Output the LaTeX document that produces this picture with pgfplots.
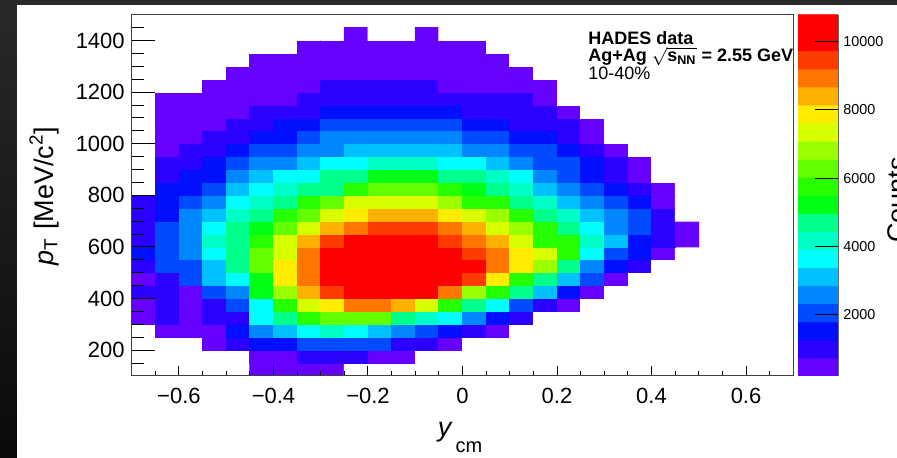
\documentclass[border=0pt]{standalone}
\usepackage{fontspec}
\setmainfont{Liberation Sans}
\usepackage{pgfplots}
\pgfplotsset{compat=1.18}
\usepackage{pgfplotstable}
\pgfplotsset{colormap={rootpal}{rgb255=(255,255,255) rgb255=(102,0,255) rgb255=(43,0,255) rgb255=(0,16,255) rgb255=(0,75,255) rgb255=(0,134,255) rgb255=(0,193,255) rgb255=(0,253,255) rgb255=(0,255,198) rgb255=(0,255,139) rgb255=(0,255,80) rgb255=(0,255,21) rgb255=(38,255,0) rgb255=(97,255,0) rgb255=(156,255,0) rgb255=(215,255,0) rgb255=(255,236,0) rgb255=(255,177,0) rgb255=(255,118,0) rgb255=(255,59,0) rgb255=(255,0,0) rgb255=(255,0,0)}}
\begin{document}
\pgfplotstableread[row sep=\\]{
x y c\\
-0.675 125 0\\ -0.625 125 0\\ -0.575 125 0\\ -0.525 125 0\\ -0.475 125 0\\ -0.425 125 470\\ -0.375 125 470\\ -0.325 125 470\\ -0.275 125 470\\ -0.225 125 0\\ -0.175 125 0\\ -0.125 125 0\\ -0.075 125 0\\ -0.025 125 0\\ 0.025 125 0\\ 0.075 125 0\\ 0.125 125 0\\ 0.175 125 0\\ 0.225 125 0\\ 0.275 125 0\\ 0.325 125 0\\ 0.375 125 0\\ 0.425 125 0\\ 0.475 125 0\\
-0.675 175 0\\ -0.625 175 0\\ -0.575 175 0\\ -0.525 175 0\\ -0.475 175 0\\ -0.425 175 470\\ -0.375 175 470\\ -0.325 175 999\\ -0.275 175 999\\ -0.225 175 999\\ -0.175 175 470\\ -0.125 175 470\\ -0.075 175 0\\ -0.025 175 0\\ 0.025 175 0\\ 0.075 175 0\\ 0.125 175 0\\ 0.175 175 0\\ 0.225 175 0\\ 0.275 175 0\\ 0.325 175 0\\ 0.375 175 0\\ 0.425 175 0\\ 0.475 175 0\\
-0.675 225 0\\ -0.625 225 0\\ -0.575 225 0\\ -0.525 225 470\\ -0.475 225 999\\ -0.425 225 1528\\ -0.375 225 1528\\ -0.325 225 2057\\ -0.275 225 2057\\ -0.225 225 2057\\ -0.175 225 2057\\ -0.125 225 999\\ -0.075 225 999\\ -0.025 225 470\\ 0.025 225 0\\ 0.075 225 0\\ 0.125 225 0\\ 0.175 225 0\\ 0.225 225 0\\ 0.275 225 0\\ 0.325 225 0\\ 0.375 225 0\\ 0.425 225 0\\ 0.475 225 0\\
-0.675 275 0\\ -0.625 275 470\\ -0.575 275 470\\ -0.525 275 470\\ -0.475 275 1528\\ -0.425 275 2587\\ -0.375 275 3116\\ -0.325 275 3645\\ -0.275 275 4174\\ -0.225 275 3645\\ -0.175 275 3116\\ -0.125 275 2587\\ -0.075 275 2057\\ -0.025 275 1528\\ 0.025 275 999\\ 0.075 275 470\\ 0.125 275 0\\ 0.175 275 0\\ 0.225 275 0\\ 0.275 275 0\\ 0.325 275 0\\ 0.375 275 0\\ 0.425 275 0\\ 0.475 275 0\\
-0.675 325 470\\ -0.625 325 999\\ -0.575 325 470\\ -0.525 325 999\\ -0.475 325 999\\ -0.425 325 3645\\ -0.375 325 4703\\ -0.325 325 5762\\ -0.275 325 6291\\ -0.225 325 6291\\ -0.175 325 6291\\ -0.125 325 4703\\ -0.075 325 4174\\ -0.025 325 3645\\ 0.025 325 2587\\ 0.075 325 1528\\ 0.125 325 999\\ 0.175 325 0\\ 0.225 325 0\\ 0.275 325 0\\ 0.325 325 0\\ 0.375 325 0\\ 0.425 325 0\\ 0.475 325 0\\
-0.675 375 470\\ -0.625 375 999\\ -0.575 375 470\\ -0.525 375 999\\ -0.475 375 2057\\ -0.425 375 3645\\ -0.375 375 5762\\ -0.325 375 7349\\ -0.275 375 7879\\ -0.225 375 8937\\ -0.175 375 8937\\ -0.125 375 8408\\ -0.075 375 7349\\ -0.025 375 5762\\ 0.025 375 4703\\ 0.075 375 3645\\ 0.125 375 2057\\ 0.175 375 999\\ 0.225 375 470\\ 0.275 375 0\\ 0.325 375 0\\ 0.375 375 0\\ 0.425 375 0\\ 0.475 375 0\\
-0.675 425 999\\ -0.625 425 999\\ -0.575 425 470\\ -0.525 425 2057\\ -0.475 425 2587\\ -0.425 425 5233\\ -0.375 425 6820\\ -0.325 425 8408\\ -0.275 425 9466\\ -0.225 425 10525\\ -0.175 425 10525\\ -0.125 425 10525\\ -0.075 425 9995\\ -0.025 425 8937\\ 0.025 425 6820\\ 0.075 425 5762\\ 0.125 425 4703\\ 0.175 425 3116\\ 0.225 425 1528\\ 0.275 425 470\\ 0.325 425 0\\ 0.375 425 0\\ 0.425 425 0\\ 0.475 425 0\\
-0.675 475 470\\ -0.625 475 999\\ -0.575 475 2057\\ -0.525 475 3116\\ -0.475 475 3645\\ -0.425 475 5233\\ -0.375 475 7879\\ -0.325 475 8937\\ -0.275 475 9995\\ -0.225 475 10525\\ -0.175 475 10525\\ -0.125 475 10525\\ -0.075 475 10525\\ -0.025 475 10525\\ 0.025 475 9466\\ 0.075 475 7879\\ 0.125 475 5762\\ 0.175 475 4703\\ 0.225 475 3116\\ 0.275 475 2057\\ 0.325 475 470\\ 0.375 475 0\\ 0.425 475 0\\ 0.475 475 0\\
-0.675 525 999\\ -0.625 525 2057\\ -0.575 525 2057\\ -0.525 525 3116\\ -0.475 525 4703\\ -0.425 525 6291\\ -0.375 525 7879\\ -0.325 525 8937\\ -0.275 525 9995\\ -0.225 525 10525\\ -0.175 525 10525\\ -0.125 525 10525\\ -0.075 525 10525\\ -0.025 525 10525\\ 0.025 525 9995\\ 0.075 525 8937\\ 0.125 525 7879\\ 0.175 525 6820\\ 0.225 525 4703\\ 0.275 525 2587\\ 0.325 525 1528\\ 0.375 525 999\\ 0.425 525 0\\ 0.475 525 0\\
-0.675 575 1528\\ -0.625 575 2057\\ -0.575 575 2587\\ -0.525 575 3645\\ -0.475 575 4703\\ -0.425 575 6291\\ -0.375 575 7349\\ -0.325 575 8937\\ -0.275 575 9995\\ -0.225 575 10525\\ -0.175 575 10525\\ -0.125 575 10525\\ -0.075 575 10525\\ -0.025 575 10525\\ 0.025 575 9466\\ 0.075 575 8937\\ 0.125 575 7879\\ 0.175 575 7349\\ 0.225 575 5762\\ 0.275 575 3645\\ 0.325 575 2057\\ 0.375 575 1528\\ 0.425 575 470\\ 0.475 575 0\\
-0.675 625 999\\ -0.625 625 2057\\ -0.575 625 2587\\ -0.525 625 4174\\ -0.475 625 4703\\ -0.425 625 5762\\ -0.375 625 7349\\ -0.325 625 8408\\ -0.275 625 9466\\ -0.225 625 9995\\ -0.175 625 10525\\ -0.125 625 10525\\ -0.075 625 10525\\ -0.025 625 9466\\ 0.025 625 8937\\ 0.075 625 8408\\ 0.125 625 7349\\ 0.175 625 5762\\ 0.225 625 5762\\ 0.275 625 4174\\ 0.325 625 3116\\ 0.375 625 1528\\ 0.425 625 999\\ 0.475 625 470\\
-0.675 675 999\\ -0.625 675 2057\\ -0.575 675 2587\\ -0.525 675 3645\\ -0.475 675 4703\\ -0.425 675 5233\\ -0.375 675 6291\\ -0.325 675 7349\\ -0.275 675 8408\\ -0.225 675 8937\\ -0.175 675 9466\\ -0.125 675 9466\\ -0.075 675 9466\\ -0.025 675 8937\\ 0.025 675 8408\\ 0.075 675 7349\\ 0.125 675 6820\\ 0.175 675 5762\\ 0.225 675 4703\\ 0.275 675 3645\\ 0.325 675 2587\\ 0.375 675 2057\\ 0.425 675 999\\ 0.475 675 470\\
-0.675 725 999\\ -0.625 725 1528\\ -0.575 725 2587\\ -0.525 725 3116\\ -0.475 725 4174\\ -0.425 725 4703\\ -0.375 725 5762\\ -0.325 725 6291\\ -0.275 725 7349\\ -0.225 725 7879\\ -0.175 725 8408\\ -0.125 725 8408\\ -0.075 725 8408\\ -0.025 725 7879\\ 0.025 725 7349\\ 0.075 725 6820\\ 0.125 725 5762\\ 0.175 725 4703\\ 0.225 725 4174\\ 0.275 725 3116\\ 0.325 725 2587\\ 0.375 725 2057\\ 0.425 725 999\\ 0.475 725 0\\
-0.675 775 999\\ -0.625 775 1528\\ -0.575 775 2057\\ -0.525 775 2587\\ -0.475 775 3645\\ -0.425 775 4174\\ -0.375 775 4703\\ -0.325 775 5762\\ -0.275 775 6291\\ -0.225 775 7349\\ -0.175 775 7349\\ -0.125 775 7349\\ -0.075 775 7349\\ -0.025 775 6820\\ 0.025 775 5762\\ 0.075 775 5762\\ 0.125 775 4703\\ 0.175 775 4174\\ 0.225 775 3116\\ 0.275 775 2587\\ 0.325 775 2057\\ 0.375 775 1528\\ 0.425 775 470\\ 0.475 775 0\\
-0.675 825 0\\ -0.625 825 1528\\ -0.575 825 1528\\ -0.525 825 2057\\ -0.475 825 3116\\ -0.425 825 3645\\ -0.375 825 4174\\ -0.325 825 4703\\ -0.275 825 4703\\ -0.225 825 5762\\ -0.175 825 6291\\ -0.125 825 6291\\ -0.075 825 6291\\ -0.025 825 5762\\ 0.025 825 5233\\ 0.075 825 4703\\ 0.125 825 4174\\ 0.175 825 3116\\ 0.225 825 2587\\ 0.275 825 2057\\ 0.325 825 1528\\ 0.375 825 999\\ 0.425 825 470\\ 0.475 825 0\\
-0.675 875 0\\ -0.625 875 999\\ -0.575 875 1528\\ -0.525 875 1528\\ -0.475 875 2587\\ -0.425 875 3116\\ -0.375 875 3645\\ -0.325 875 3645\\ -0.275 875 4703\\ -0.225 875 4703\\ -0.175 875 5233\\ -0.125 875 5233\\ -0.075 875 5233\\ -0.025 875 4703\\ 0.025 875 4703\\ 0.075 875 4174\\ 0.125 875 3645\\ 0.175 875 2587\\ 0.225 875 2057\\ 0.275 875 1528\\ 0.325 875 999\\ 0.375 875 470\\ 0.425 875 0\\ 0.475 875 0\\
-0.675 925 0\\ -0.625 925 999\\ -0.575 925 999\\ -0.525 925 1528\\ -0.475 925 2057\\ -0.425 925 2587\\ -0.375 925 2587\\ -0.325 925 3116\\ -0.275 925 3645\\ -0.225 925 3645\\ -0.175 925 4174\\ -0.125 925 4174\\ -0.075 925 4174\\ -0.025 925 3645\\ 0.025 925 3645\\ 0.075 925 3116\\ 0.125 925 2587\\ 0.175 925 2057\\ 0.225 925 2057\\ 0.275 925 1528\\ 0.325 925 999\\ 0.375 925 470\\ 0.425 925 0\\ 0.475 925 0\\
-0.675 975 0\\ -0.625 975 470\\ -0.575 975 999\\ -0.525 975 999\\ -0.475 975 1528\\ -0.425 975 2057\\ -0.375 975 2057\\ -0.325 975 2587\\ -0.275 975 2587\\ -0.225 975 3116\\ -0.175 975 3116\\ -0.125 975 3116\\ -0.075 975 3116\\ -0.025 975 3116\\ 0.025 975 2587\\ 0.075 975 2587\\ 0.125 975 2057\\ 0.175 975 2057\\ 0.225 975 1528\\ 0.275 975 999\\ 0.325 975 470\\ 0.375 975 0\\ 0.425 975 0\\ 0.475 975 0\\
-0.675 1025 0\\ -0.625 1025 470\\ -0.575 1025 470\\ -0.525 1025 999\\ -0.475 1025 999\\ -0.425 1025 1528\\ -0.375 1025 1528\\ -0.325 1025 2057\\ -0.275 1025 2587\\ -0.225 1025 2587\\ -0.175 1025 2587\\ -0.125 1025 2587\\ -0.075 1025 2587\\ -0.025 1025 2587\\ 0.025 1025 2057\\ 0.075 1025 2057\\ 0.125 1025 1528\\ 0.175 1025 1528\\ 0.225 1025 999\\ 0.275 1025 470\\ 0.325 1025 0\\ 0.375 1025 0\\ 0.425 1025 0\\ 0.475 1025 0\\
-0.675 1075 0\\ -0.625 1075 470\\ -0.575 1075 470\\ -0.525 1075 470\\ -0.475 1075 999\\ -0.425 1075 999\\ -0.375 1075 1528\\ -0.325 1075 1528\\ -0.275 1075 2057\\ -0.225 1075 2057\\ -0.175 1075 2057\\ -0.125 1075 2057\\ -0.075 1075 2057\\ -0.025 1075 2057\\ 0.025 1075 1528\\ 0.075 1075 1528\\ 0.125 1075 999\\ 0.175 1075 999\\ 0.225 1075 999\\ 0.275 1075 470\\ 0.325 1075 0\\ 0.375 1075 0\\ 0.425 1075 0\\ 0.475 1075 0\\
-0.675 1125 0\\ -0.625 1125 470\\ -0.575 1125 470\\ -0.525 1125 470\\ -0.475 1125 470\\ -0.425 1125 999\\ -0.375 1125 999\\ -0.325 1125 999\\ -0.275 1125 1528\\ -0.225 1125 1528\\ -0.175 1125 1528\\ -0.125 1125 1528\\ -0.075 1125 1528\\ -0.025 1125 1528\\ 0.025 1125 999\\ 0.075 1125 999\\ 0.125 1125 999\\ 0.175 1125 999\\ 0.225 1125 470\\ 0.275 1125 0\\ 0.325 1125 0\\ 0.375 1125 0\\ 0.425 1125 0\\ 0.475 1125 0\\
-0.675 1175 0\\ -0.625 1175 470\\ -0.575 1175 470\\ -0.525 1175 470\\ -0.475 1175 470\\ -0.425 1175 470\\ -0.375 1175 470\\ -0.325 1175 999\\ -0.275 1175 999\\ -0.225 1175 999\\ -0.175 1175 999\\ -0.125 1175 999\\ -0.075 1175 999\\ -0.025 1175 999\\ 0.025 1175 999\\ 0.075 1175 999\\ 0.125 1175 999\\ 0.175 1175 470\\ 0.225 1175 0\\ 0.275 1175 0\\ 0.325 1175 0\\ 0.375 1175 0\\ 0.425 1175 0\\ 0.475 1175 0\\
-0.675 1225 0\\ -0.625 1225 0\\ -0.575 1225 0\\ -0.525 1225 470\\ -0.475 1225 470\\ -0.425 1225 470\\ -0.375 1225 470\\ -0.325 1225 470\\ -0.275 1225 999\\ -0.225 1225 999\\ -0.175 1225 999\\ -0.125 1225 999\\ -0.075 1225 999\\ -0.025 1225 470\\ 0.025 1225 470\\ 0.075 1225 470\\ 0.125 1225 470\\ 0.175 1225 470\\ 0.225 1225 0\\ 0.275 1225 0\\ 0.325 1225 0\\ 0.375 1225 0\\ 0.425 1225 0\\ 0.475 1225 0\\
-0.675 1275 0\\ -0.625 1275 0\\ -0.575 1275 0\\ -0.525 1275 0\\ -0.475 1275 470\\ -0.425 1275 470\\ -0.375 1275 470\\ -0.325 1275 470\\ -0.275 1275 470\\ -0.225 1275 470\\ -0.175 1275 470\\ -0.125 1275 470\\ -0.075 1275 470\\ -0.025 1275 470\\ 0.025 1275 470\\ 0.075 1275 470\\ 0.125 1275 470\\ 0.175 1275 0\\ 0.225 1275 0\\ 0.275 1275 0\\ 0.325 1275 0\\ 0.375 1275 0\\ 0.425 1275 0\\ 0.475 1275 0\\
-0.675 1325 0\\ -0.625 1325 0\\ -0.575 1325 0\\ -0.525 1325 0\\ -0.475 1325 0\\ -0.425 1325 470\\ -0.375 1325 470\\ -0.325 1325 470\\ -0.275 1325 470\\ -0.225 1325 470\\ -0.175 1325 470\\ -0.125 1325 470\\ -0.075 1325 470\\ -0.025 1325 470\\ 0.025 1325 470\\ 0.075 1325 470\\ 0.125 1325 0\\ 0.175 1325 0\\ 0.225 1325 0\\ 0.275 1325 0\\ 0.325 1325 0\\ 0.375 1325 0\\ 0.425 1325 0\\ 0.475 1325 0\\
-0.675 1375 0\\ -0.625 1375 0\\ -0.575 1375 0\\ -0.525 1375 0\\ -0.475 1375 0\\ -0.425 1375 0\\ -0.375 1375 0\\ -0.325 1375 470\\ -0.275 1375 470\\ -0.225 1375 470\\ -0.175 1375 470\\ -0.125 1375 470\\ -0.075 1375 470\\ -0.025 1375 470\\ 0.025 1375 470\\ 0.075 1375 0\\ 0.125 1375 0\\ 0.175 1375 0\\ 0.225 1375 0\\ 0.275 1375 0\\ 0.325 1375 0\\ 0.375 1375 0\\ 0.425 1375 0\\ 0.475 1375 0\\
-0.675 1425 0\\ -0.625 1425 0\\ -0.575 1425 0\\ -0.525 1425 0\\ -0.475 1425 0\\ -0.425 1425 0\\ -0.375 1425 0\\ -0.325 1425 0\\ -0.275 1425 0\\ -0.225 1425 470\\ -0.175 1425 0\\ -0.125 1425 0\\ -0.075 1425 470\\ -0.025 1425 0\\ 0.025 1425 0\\ 0.075 1425 0\\ 0.125 1425 0\\ 0.175 1425 0\\ 0.225 1425 0\\ 0.275 1425 0\\ 0.325 1425 0\\ 0.375 1425 0\\ 0.425 1425 0\\ 0.475 1425 0\\
}\hist%
\pgfplotstableread[row sep=\\]{
x y c\\
0 469.6 470\\ 1 469.6 470\\
0 998.9 999\\ 1 998.9 999\\
0 1528.1 1528\\ 1 1528.1 1528\\
0 2057.4 2057\\ 1 2057.4 2057\\
0 2586.6 2587\\ 1 2586.6 2587\\
0 3115.9 3116\\ 1 3115.9 3116\\
0 3645.1 3645\\ 1 3645.1 3645\\
0 4174.4 4174\\ 1 4174.4 4174\\
0 4703.6 4703\\ 1 4703.6 4703\\
0 5232.9 5233\\ 1 5232.9 5233\\
0 5762.1 5762\\ 1 5762.1 5762\\
0 6291.4 6291\\ 1 6291.4 6291\\
0 6820.6 6820\\ 1 6820.6 6820\\
0 7349.9 7349\\ 1 7349.9 7349\\
0 7879.1 7879\\ 1 7879.1 7879\\
0 8408.4 8408\\ 1 8408.4 8408\\
0 8937.6 8937\\ 1 8937.6 8937\\
0 9466.9 9466\\ 1 9466.9 9466\\
0 9996.1 9995\\ 1 9996.1 9995\\
0 10525.4 10525\\ 1 10525.4 10525\\
}\levels%
\begin{tikzpicture}
\useasboundingbox (0,0) rectangle (448.5pt,229pt);
\fill[black!84] (0,0) rectangle (448.5pt,229pt);
\shade[top color=black!84, bottom color=black!96] (0,0) rectangle (8.5pt,226.5pt);
\fill[white] (8.5pt,0) rectangle (448.5pt,226.5pt);
\begin{axis}[
  at={(65.85pt,41pt)}, anchor=south west,
  width=330.8pt, height=180.65pt, scale only axis,
  xmin=-0.7, xmax=0.7, ymin=100, ymax=1500,
  axis on top,
  colormap name=rootpal, colormap access=piecewise constant,
  point meta min=-324.25, point meta max=10790,
  tick align=inside, tick pos=left,
  scaled ticks=false,
  xtick={-0.6,-0.4,-0.2,0,0.2,0.4,0.6},
  xticklabels={−0.6,−0.4,−0.2,0,0.2,0.4,0.6},
  minor xtick={-0.65,-0.55,-0.5,-0.45,-0.35,-0.3,-0.25,-0.15,-0.1,-0.05,0.05,0.1,0.15,0.25,0.3,0.35,0.45,0.5,0.55,0.65},
  ytick={200,400,600,800,1000,1200,1400},
  yticklabels={200,400,600,800,1000,1200,1400},
  minor ytick={150,250,300,350,450,500,550,650,700,750,850,900,950,1050,1100,1150,1250,1300,1350,1450},
  xtick style={black, line width=0.5pt, /pgfplots/major tick length=4.75pt, /pgfplots/minor tick length=2.4pt},
  ytick style={black, line width=0.5pt, /pgfplots/major tick length=11.5pt, /pgfplots/minor tick length=6pt},
  axis line style={black!75, line width=0.5pt},
  ticklabel style={font=\fontsize{11}{13}\selectfont},
  xticklabel style={inner sep=0pt, anchor=north, yshift=-6pt},
  yticklabel style={inner sep=0pt, anchor=east, xshift=-3.3pt},
]
\addplot[matrix plot*, mesh/cols=24, point meta=explicit] table[x=x, y=y, meta=c] {\hist};
\end{axis}
\begin{axis}[
  at={(399pt,41pt)}, anchor=south west,
  width=20pt, height=180.65pt, scale only axis,
  xmin=-0.5, xmax=1.5, ymin=205, ymax=10790,
  colormap name=rootpal, colormap access=piecewise constant,
  point meta min=-324.25, point meta max=10790,
  axis on top,
  hide x axis,
  axis y line*=right,
  scaled y ticks=false,
  ytick={2000,4000,6000,8000,10000},
  yticklabels={2000,4000,6000,8000,10000},
  tick align=inside, major tick length=11.5pt,
  ytick style={black, line width=0.5pt},
  axis line style={black!60, line width=0.4pt},
  yticklabel style={font=\fontsize{7.2}{8}\selectfont, inner sep=0pt, anchor=west, xshift=2.5pt},
]
\addplot[matrix plot*, mesh/cols=2, point meta=explicit] table[x=x, y=y, meta=c] {\levels};
\end{axis}
\node[rotate=90, anchor=center, font=\fontsize{13.5}{15}\selectfont] at (22pt,131pt) {\textit{p}\textsubscript{T} [MeV/c\textsuperscript{2}]};
\node[anchor=base, font=\fontsize{13.5}{15}\selectfont] at (230pt,10.5pt) {\textit{y}\hspace{1.5pt}\raisebox{-8pt}{\fontsize{10}{12}\selectfont cm}};
\node[rotate=90, anchor=base, font=\fontsize{13.5}{15}\selectfont] at (453pt,129pt) {Counts};
\node[inner sep=0pt, anchor=base west, font=\bfseries\fontsize{9}{10}\selectfont] at (294pt,206.85pt) {HADES data};
\node[inner sep=0pt, anchor=base west, font=\bfseries\fontsize{9}{10}\selectfont] at (294pt,198.15pt) {Ag+Ag $\sqrt{\mbox{\bfseries\fontsize{9}{10}\selectfont s}_{\mbox{\bfseries\fontsize{6.3}{7}\selectfont NN}}}$ = 2.55 GeV};
\node[inner sep=0pt, anchor=base west, font=\fontsize{9}{10}\selectfont] at (294pt,189pt) {10-40\%};
\end{tikzpicture}
\end{document}
